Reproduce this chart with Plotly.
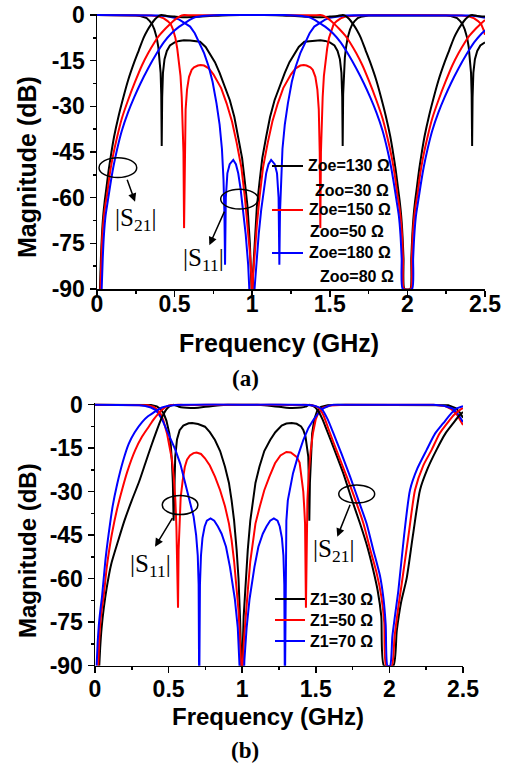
import plotly.graph_objects as go

W, H = 521, 766

# ---------------- (a) coupled-line section: Zoe / Zoo sweep ----------------
a130_s21_f = [0.019, 0.025, 0.032, 0.04, 0.05, 0.06, 0.075, 0.09, 0.11, 0.14, 0.17, 0.2, 0.24, 0.27, 0.3,
              0.325, 0.35, 0.375, 0.4, 0.417, 0.45, 0.5, 0.56, 0.65, 0.75, 0.85, 1.0, 1.15, 1.25, 1.35, 1.44,
              1.5, 1.55, 1.583, 1.6, 1.625, 1.65, 1.675, 1.7, 1.73, 1.76, 1.8, 1.83, 1.86, 1.89, 1.91, 1.925,
              1.94, 1.95, 1.96, 1.968, 1.975, 1.981, 2.019, 2.025, 2.032, 2.04, 2.05, 2.06, 2.075, 2.09, 2.11,
              2.14, 2.17, 2.2, 2.24, 2.27, 2.3, 2.325, 2.35, 2.375, 2.4, 2.417, 2.45, 2.5]
a130_s21_db = [-90, -80, -72, -66, -61, -57, -51, -46, -40, -33, -27, -21.5, -15.5, -11.5, -7.5,
               -5, -3, -1.3, -0.3, 0, -0.3, -0.5, -0.7, -0.55, -0.25, -0.05, 0, -0.05, -0.25, -0.55, -0.7,
               -0.5, -0.3, 0, -0.3, -1.3, -3, -5, -7.5, -11.5, -15.5, -21.5, -27, -33, -40, -46, -51,
               -57, -61, -66, -72, -80, -90, -90, -80, -72, -66, -61, -57, -51, -46, -40,
               -33, -27, -21.5, -15.5, -11.5, -7.5, -5, -3, -1.3, -0.3, 0, -0.3, -0.5]

a150_s21_f = [0.022, 0.028, 0.035, 0.045, 0.055, 0.065, 0.08, 0.1, 0.13, 0.16, 0.2, 0.245, 0.29, 0.33, 0.37,
              0.4, 0.44, 0.47, 0.5, 0.53, 0.561, 0.6, 0.668, 0.8, 1.0, 1.2, 1.332, 1.4, 1.439, 1.47, 1.5,
              1.53, 1.56, 1.6, 1.63, 1.67, 1.71, 1.755, 1.8, 1.84, 1.87, 1.9, 1.92, 1.935, 1.945, 1.955,
              1.965, 1.972, 1.978, 2.022, 2.028, 2.035, 2.045, 2.055, 2.065, 2.08, 2.1, 2.13, 2.16, 2.2,
              2.245, 2.29, 2.33, 2.37, 2.4, 2.44, 2.47, 2.5]
a150_s21_db = [-90, -80, -72, -66, -62, -59, -53, -47, -40, -34, -28, -22, -16.5, -12.5, -9,
               -6.8, -4.5, -3, -1.6, -0.5, 0, -0.1, -0.1, -0.03, 0, -0.03, -0.1, -0.1, 0, -0.5, -1.6,
               -3, -4.5, -6.8, -9, -12.5, -16.5, -22, -28, -34, -40, -47, -53, -59, -62, -66,
               -72, -80, -90, -90, -80, -72, -66, -62, -59, -53, -47, -40, -34, -28,
               -22, -16.5, -12.5, -9, -6.8, -4.5, -3, -1.6]

a180_s21_f = [0.03, 0.037, 0.045, 0.055, 0.07, 0.085, 0.105, 0.13, 0.16, 0.2, 0.24, 0.28, 0.33, 0.38, 0.43,
              0.48, 0.53, 0.57, 0.6, 0.64, 0.7, 0.76, 0.824, 1.0, 1.176, 1.24, 1.3, 1.36, 1.4, 1.43, 1.47,
              1.52, 1.57, 1.62, 1.67, 1.72, 1.76, 1.8, 1.84, 1.87, 1.895, 1.915, 1.93, 1.945, 1.955, 1.963,
              1.97, 2.03, 2.037, 2.045, 2.055, 2.07, 2.085, 2.105, 2.13, 2.16, 2.2, 2.24, 2.28, 2.33, 2.38,
              2.43, 2.48, 2.5]
a180_s21_db = [-90, -80, -72, -66, -61, -56, -50, -44, -38, -32, -27, -22.5, -17.5, -13, -9,
               -6, -3.8, -2.5, -1.5, -0.6, -0.2, -0.05, 0, 0, 0, -0.05, -0.2, -0.6, -1.5, -2.5, -3.8,
               -6, -9, -13, -17.5, -22.5, -27, -32, -38, -44, -50, -56, -61, -66, -72, -80,
               -90, -90, -80, -72, -66, -61, -56, -50, -44, -38, -32, -27, -22.5, -17.5, -13,
               -9, -6, -5]

a130_s11_f = [0, 0.2, 0.25, 0.28, 0.3, 0.32, 0.34, 0.355, 0.37, 0.385, 0.395, 0.403, 0.41, 0.414, 0.417,
              0.42, 0.425, 0.435, 0.45, 0.47, 0.5, 0.53, 0.56, 0.6, 0.664, 0.7, 0.727, 0.76, 0.79, 0.82,
              0.856, 0.885, 0.91, 0.935, 0.953, 0.97, 0.985, 0.995, 1.0, 1.005, 1.015, 1.03, 1.047, 1.065,
              1.09, 1.115, 1.144, 1.18, 1.21, 1.24, 1.273, 1.3, 1.336, 1.4, 1.44, 1.47, 1.5, 1.53, 1.55,
              1.565, 1.575, 1.58, 1.583, 1.586, 1.59, 1.597, 1.605, 1.615, 1.63, 1.645, 1.66, 1.68, 1.7,
              1.72, 1.75, 1.8, 2.0, 2.2, 2.25, 2.28, 2.3, 2.32, 2.34, 2.355, 2.37, 2.385, 2.395, 2.403,
              2.41, 2.414, 2.417, 2.42, 2.425, 2.435, 2.45, 2.47, 2.5]
a130_s11_db = [0, -0.05, -0.15, -0.35, -0.6, -1.0, -2.0, -3, -4.8, -7.5, -10.5, -14, -19, -26, -43,
               -27, -19, -14.5, -11.8, -10, -9, -8.5, -8.3, -8.4, -8.8, -10.5, -12.6, -15.5, -19, -23,
               -28, -33.5, -40, -47, -55, -63, -75, -85, -95, -85, -75, -63, -55, -47,
               -40, -33.5, -28, -23, -19, -15.5, -12.6, -10.5, -8.8, -8.4, -8.3, -8.5, -9, -10, -11.8,
               -14.5, -19, -27, -43, -26, -19, -14, -10.5, -7.5, -4.8, -3, -2, -1, -0.6,
               -0.35, -0.15, -0.05, 0, -0.05, -0.15, -0.35, -0.6, -1.0, -2.0, -3, -4.8, -7.5, -10.5, -14,
               -19, -26, -43, -27, -19, -14.5, -11.8, -10, -9]

a150_s11_f = [0, 0.3, 0.35, 0.4, 0.43, 0.455, 0.475, 0.49, 0.505, 0.517, 0.528, 0.538, 0.546, 0.552, 0.557,
              0.561, 0.565, 0.571, 0.58, 0.593, 0.61, 0.625, 0.65, 0.668, 0.69, 0.72, 0.75, 0.8, 0.835,
              0.87, 0.9, 0.93, 0.953, 0.97, 0.985, 0.995, 1.0, 1.005, 1.015, 1.03, 1.047, 1.07, 1.1, 1.13,
              1.165, 1.2, 1.25, 1.28, 1.31, 1.332, 1.35, 1.375, 1.39, 1.407, 1.42, 1.429, 1.435, 1.439,
              1.443, 1.448, 1.454, 1.462, 1.472, 1.483, 1.495, 1.51, 1.525, 1.545, 1.57, 1.6, 1.65, 1.7,
              2.0, 2.3, 2.35, 2.4, 2.43, 2.455, 2.475, 2.49, 2.5]
a150_s11_db = [0, -0.05, -0.15, -0.5, -1.1, -2, -3, -4.8, -7.5, -11, -15, -20, -27, -35, -45,
               -70, -45, -31, -24.5, -20.3, -18, -17.2, -16.6, -16.4, -16.6, -17.5, -19.5, -24, -29,
               -35, -42, -50, -60, -69, -78, -86, -95, -86, -78, -69, -60, -50, -42, -35,
               -29, -24, -19.5, -17.5, -16.6, -16.4, -16.6, -17.2, -18, -20.3, -24.5, -31, -45, -70,
               -45, -35, -27, -20, -15, -11, -7.5, -4.8, -3, -2, -1.1, -0.5, -0.15, -0.05,
               0, -0.05, -0.15, -0.5, -1.1, -2, -3, -4.8, -6.5]

a180_s11_f = [0, 0.35, 0.4, 0.45, 0.5, 0.53, 0.56, 0.6, 0.63, 0.66, 0.69, 0.72, 0.745, 0.77, 0.79, 0.805,
              0.815, 0.821, 0.825, 0.83, 0.84, 0.855, 0.878, 0.895, 0.91, 0.925, 0.942, 0.958, 0.974,
              0.985, 1.0, 1.015, 1.026, 1.042, 1.058, 1.075, 1.09, 1.105, 1.122, 1.145, 1.16, 1.17, 1.175,
              1.179, 1.185, 1.195, 1.21, 1.23, 1.255, 1.28, 1.31, 1.34, 1.37, 1.4, 1.44, 1.47, 1.5, 1.55,
              1.6, 1.65, 2.0, 2.35, 2.4, 2.45, 2.5]
a180_s11_db = [0, -0.05, -0.15, -0.4, -0.9, -1.5, -2.4, -3.8, -6, -9, -12.5, -17, -22, -29, -36, -44,
               -54, -65, -82, -60, -52, -49, -47.6, -49, -52, -57, -64, -72, -82,
               -90, -110, -90, -82, -72, -64, -57, -52, -49, -47.6, -49, -52, -60, -82,
               -65, -54, -44, -36, -29, -22, -17, -12.5, -9, -6, -3.8, -2.4, -1.5, -0.9, -0.4,
               -0.15, -0.05, 0, -0.05, -0.15, -0.4, -0.9]

# ---------------- (b) stub impedance Z1 sweep ----------------
b30_s21_f = [0.029, 0.035, 0.045, 0.06, 0.08, 0.11, 0.16, 0.2, 0.25, 0.3, 0.342, 0.38, 0.421, 0.445, 0.466,
             0.485, 0.505, 0.52, 0.534, 0.55, 0.57, 0.6, 0.65, 0.7, 0.75, 0.8, 0.85, 0.9, 1.0, 1.1, 1.15,
             1.2, 1.25, 1.3, 1.34, 1.4, 1.43, 1.456, 1.475, 1.495, 1.52, 1.545, 1.574, 1.63, 1.687, 1.74,
             1.8, 1.85, 1.89, 1.92, 1.945, 1.963, 2.027, 2.05, 2.08, 2.117, 2.16, 2.208, 2.26, 2.32, 2.38,
             2.434, 2.47, 2.49, 2.5]
b30_s21_db = [-90, -84, -77, -70, -63, -55, -46.5, -40, -33, -26.5, -20.2, -14.5, -8.7, -5.5, -3.2,
              -1.6, -0.6, -0.2, 0, -0.3, -0.7, -1.0, -1.15, -1.05, -0.75, -0.45, -0.2, -0.07, 0, -0.07, -0.2,
              -0.45, -0.75, -1.05, -1.15, -1.0, -0.7, 0, -0.3, -0.9, -2.5, -5, -8.7, -16, -23.7, -32,
              -40.9, -49, -57, -64, -73, -90, -90, -78, -68, -60, -45, -29.4, -22, -15.6, -10,
              -6.4, -4, -3, -2.5]

b50_s21_f = [0.022, 0.028, 0.035, 0.045, 0.059, 0.08, 0.1, 0.115, 0.15, 0.183, 0.22, 0.274, 0.32, 0.365, 0.4,
             0.432, 0.46, 0.49, 0.52, 0.564, 0.6, 0.69, 0.8, 1.0, 1.2, 1.31, 1.4, 1.433, 1.47, 1.5, 1.517,
             1.55, 1.597, 1.65, 1.71, 1.77, 1.823, 1.87, 1.913, 1.945, 1.965, 1.978, 2.016, 2.035, 2.06,
             2.083, 2.13, 2.174, 2.23, 2.287, 2.34, 2.4, 2.44, 2.48, 2.5]
b50_s21_db = [-90, -82, -76, -71, -66, -56, -49, -44.5, -36, -29.5, -23, -15.6, -11, -7.6, -5,
              -3, -1.6, -0.6, -0.15, 0, -0.1, -0.1, -0.05, 0, -0.05, -0.1, -0.1, 0, -0.2, -0.6, -1,
              -3.5, -9.9, -17, -24.8, -33, -40.9, -50, -58, -66, -75, -90, -90, -80, -70,
              -62, -45, -29.4, -21, -15.6, -10, -5.9, -3.5, -1.8, -1.2]

b70_s21_f = [0.011, 0.018, 0.026, 0.036, 0.048, 0.07, 0.093, 0.12, 0.15, 0.19, 0.229, 0.27, 0.32, 0.36, 0.39,
             0.42, 0.455, 0.5, 0.55, 0.6, 1.0, 1.4, 1.45, 1.5, 1.54, 1.58, 1.62, 1.675, 1.733, 1.79, 1.845,
             1.89, 1.936, 1.96, 1.975, 1.987, 2.005, 2.02, 2.04, 2.061, 2.1, 2.14, 2.19, 2.253, 2.31, 2.366,
             2.42, 2.457, 2.5]
b70_s21_db = [-90, -82, -76, -71, -66, -54, -44.5, -35, -27.5, -19.5, -13.5, -9.5, -6, -4, -3,
              -2, -1, -0.4, -0.1, 0, 0, 0, -0.1, -0.5, -1.5, -5, -9.9, -17, -24.8, -33, -41,
              -50, -59, -67, -76, -90, -90, -80, -72, -64, -45, -29.4, -22, -15.6, -10, -6.4,
              -3, -1.3, -0.5]

b30_s11_f = [0, 0.3, 0.38, 0.42, 0.445, 0.466, 0.485, 0.505, 0.515, 0.523, 0.529, 0.534, 0.538, 0.545, 0.557,
             0.575, 0.6, 0.636, 0.66, 0.7, 0.747, 0.78, 0.815, 0.85, 0.883, 0.91, 0.928, 0.945, 0.962, 0.975,
             0.985, 0.997, 1.01, 1.025, 1.038, 1.055, 1.072, 1.09, 1.117, 1.15, 1.19, 1.225, 1.268, 1.3,
             1.336, 1.37, 1.4, 1.415, 1.43, 1.44, 1.449, 1.453, 1.456, 1.46, 1.467, 1.475, 1.49, 1.51,
             1.535, 1.58, 1.65, 2.3, 2.4, 2.45, 2.48, 2.5]
b30_s11_db = [0, 0, -0.1, -0.6, -1.5, -3, -5.5, -9.9, -14, -20, -27, -40, -27, -18, -12,
              -8.8, -7.2, -6.4, -6.3, -6.7, -7.6, -9.5, -12.2, -16, -21.4, -27, -33, -40, -50, -60,
              -73, -95, -73, -60, -50, -40, -33, -27, -21.4, -16, -12.2, -9.5, -7.2, -6.5,
              -6.3, -6.6, -7.5, -8.7, -11, -14, -18, -27, -40, -27, -18, -10, -5, -2,
              -0.8, -0.2, 0, 0, -0.2, -1.2, -2.8, -4.5]

b50_s11_f = [0, 0.3, 0.36, 0.4, 0.425, 0.444, 0.465, 0.489, 0.505, 0.523, 0.535, 0.546, 0.553, 0.558, 0.564,
             0.568, 0.574, 0.582, 0.596, 0.61, 0.625, 0.645, 0.669, 0.69, 0.72, 0.747, 0.78, 0.815, 0.85,
             0.883, 0.91, 0.928, 0.945, 0.962, 0.975, 0.985, 0.998, 1.012, 1.025, 1.04, 1.055, 1.072, 1.09,
             1.12, 1.15, 1.185, 1.223, 1.26, 1.3, 1.33, 1.37, 1.39, 1.404, 1.415, 1.422, 1.427, 1.433,
             1.437, 1.443, 1.452, 1.465, 1.48, 1.5, 1.52, 1.55, 1.6, 1.7, 2.3, 2.38, 2.42, 2.46, 2.5]
b50_s11_db = [0, 0, -0.2, -0.8, -1.8, -3, -5.5, -9.9, -14, -19, -25, -33, -42, -52, -70,
              -50, -40, -32, -26, -21.5, -19, -17.5, -16.7, -16.5, -17, -18.5, -21, -24.8, -29.5,
              -35, -41, -46.7, -54, -62.8, -71, -81, -95, -81, -71, -62.8, -54, -46.7, -41,
              -35, -29.5, -24.8, -20.2, -17.5, -16.3, -16.5, -18, -20, -25, -30, -36, -41, -70,
              -45, -33, -24, -16, -10, -5, -2.5, -1, -0.3, 0, 0, -0.5, -1.5, -3.5, -7]

b70_s11_f = [0, 0.25, 0.3, 0.342, 0.38, 0.41, 0.43, 0.455, 0.478, 0.51, 0.546, 0.58, 0.614, 0.645, 0.67,
             0.687, 0.698, 0.704, 0.708, 0.713, 0.72, 0.73, 0.745, 0.76, 0.785, 0.81, 0.835, 0.86, 0.89,
             0.917, 0.935, 0.95, 0.97, 0.985, 1.0, 1.015, 1.03, 1.05, 1.065, 1.083, 1.11, 1.14, 1.165,
             1.19, 1.215, 1.24, 1.255, 1.27, 1.28, 1.286, 1.29, 1.294, 1.3, 1.31, 1.345, 1.38, 1.415,
             1.45, 1.483, 1.52, 1.55, 1.59, 1.62, 2.3, 2.37, 2.43, 2.47, 2.5]
b70_s11_db = [0, 0, -0.2, -0.5, -1, -1.8, -3, -5, -7.6, -11, -15.6, -20.5, -27, -33, -38.6,
              -45, -52, -62, -100, -62, -52, -46, -42, -40, -39.2, -40, -42, -44.5, -49,
              -56, -61.5, -67, -77, -88, -110, -88, -77, -67, -61.5, -56, -49, -44.5, -42,
              -40, -39.2, -40, -42, -46, -52, -62, -100, -62, -40, -33, -23.7, -17.5, -12.2,
              -8, -5.3, -2.8, -1.3, -0.4, 0, 0, -0.4, -1.3, -3.5, -6]

X_TICKS = [0, 0.5, 1, 1.5, 2, 2.5]
X_TICK_TEXT = ["0", "0.5", "1", "1.5", "2", "2.5"]
Y_TICKS = [0, -15, -30, -45, -60, -75, -90]
Y_TICK_TEXT = ["0", "-15", "-30", "-45", "-60", "-75", "-90"]

BLACK, RED, BLUE = "#000000", "#ff0000", "#0000ff"
SANS = "Liberation Sans, Arial, sans-serif"
SERIF = "Liberation Serif, Times New Roman, serif"

fig = go.Figure()


def curve(fx, fy, color, xa, ya, smooth):
    line = dict(color=color, width=2)
    if smooth:
        line.update(shape="spline", smoothing=0.6)
    fig.add_trace(go.Scatter(x=fx, y=fy, mode="lines", line=line,
                             xaxis=xa, yaxis=ya, showlegend=False, hoverinfo="skip"))


# S11 (sharp reflection zeros, straight segments) drawn first, S21 (smooth) on top
curve(a130_s11_f, a130_s11_db, BLACK, "x", "y", False)
curve(a150_s11_f, a150_s11_db, RED, "x", "y", False)
curve(a180_s11_f, a180_s11_db, BLUE, "x", "y", False)
curve(a130_s21_f, a130_s21_db, BLACK, "x", "y", True)
curve(a150_s21_f, a150_s21_db, RED, "x", "y", True)
curve(a180_s21_f, a180_s21_db, BLUE, "x", "y", True)

curve(b30_s11_f, b30_s11_db, BLACK, "x2", "y2", False)
curve(b50_s11_f, b50_s11_db, RED, "x2", "y2", False)
curve(b70_s11_f, b70_s11_db, BLUE, "x2", "y2", False)
curve(b30_s21_f, b30_s21_db, BLACK, "x2", "y2", True)
curve(b50_s21_f, b50_s21_db, RED, "x2", "y2", True)
curve(b70_s21_f, b70_s21_db, BLUE, "x2", "y2", True)


def px(v):
    return v / W


def py(v):
    return 1 - v / H


TICK_FONT = dict(family=SANS, size=23, color="black", weight="bold")


def xax(dom, standoff):
    return dict(domain=dom, range=[0, 2.5], showline=True, linecolor="black", linewidth=1.5,
                ticks="outside", ticklen=6, tickwidth=1.5, tickcolor="black",
                tickmode="array", tickvals=X_TICKS, ticktext=X_TICK_TEXT, tickfont=TICK_FONT,
                ticklabelstandoff=standoff, automargin=False,
                minor=dict(ticks="outside", ticklen=3, tickwidth=1.5, tickcolor="black", dtick=0.25, tick0=0),
                showgrid=False, zeroline=False, fixedrange=True)


def yax(dom, anchor):
    return dict(domain=dom, range=[-90, 0.5], anchor=anchor, showline=True, linecolor="black", linewidth=1.5,
                ticks="outside", ticklen=6, tickwidth=1.5, tickcolor="black",
                tickmode="array", tickvals=Y_TICKS, ticktext=Y_TICK_TEXT, tickfont=TICK_FONT,
                automargin=False,
                minor=dict(ticks="outside", ticklen=3, tickwidth=1.5, tickcolor="black", dtick=7.5, tick0=0),
                showgrid=False, zeroline=False, fixedrange=True)


xa = xax([px(97), px(485)], -12); xa["anchor"] = "y"
xb = xax([px(95), px(463)], -4); xb["anchor"] = "y2"
ya = yax([py(289), py(13.5)], "x")
yb = yax([py(665.7), py(403.2)], "x2")

annotations = []
shapes = []

# axis titles and panel labels
for (x, y, txt, ang, size) in [(279, 342.5, "Frequency (GHz)", 0, 25), (268, 716.7, "Frequency (GHz)", 0, 24),
                               (27, 167, "Magnitude (dB)", -90, 25), (27, 551, "Magnitude (dB)", -90, 24)]:
    annotations.append(dict(x=px(x), y=py(y), xref="paper", yref="paper", text=txt, showarrow=False,
                            textangle=ang, xanchor="center", yanchor="middle",
                            font=dict(family=SANS, size=size, color="black", weight="bold")))
for (x, y, txt) in [(245, 378, "(a)"), (245, 750, "(b)")]:
    annotations.append(dict(x=px(x), y=py(y), xref="paper", yref="paper", text=txt, showarrow=False,
                            xanchor="center", yanchor="middle",
                            font=dict(family=SERIF, size=23, color="black", weight="bold")))

# |S21| / |S11| call-outs (ellipse around the curve bundle + arrow to the label)
callouts = [
    ("x", "y", (0.013, 0.256, -53.4, -46.9), (0.191, -53.6), (0.245, -61.3), (0.251, -67.3), "|S<sub>21</sub>|"),
    ("x", "y", (0.797, 1.039, -63.7, -57.2), (0.825, -64.1), (0.724, -75.6), (0.689, -80.2), "|S<sub>11</sub>|"),
    ("x2", "y2", (0.457, 0.699, -37.9, -31.3), (0.532, -38.6), (0.408, -49.0), (0.378, -55.3), "|S<sub>11</sub>|"),
    ("x2", "y2", (1.656, 1.900, -33.9, -27.7), (1.737, -34.0), (1.646, -45.5), (1.617, -50.4), "|S<sub>21</sub>|"),
]
for (xr, yr, (ex0, ex1, ey0, ey1), (sx, sy), (tx, ty), (lx, ly), lab) in callouts:
    shapes.append(dict(type="circle", xref=xr, yref=yr, x0=ex0, x1=ex1, y0=ey0, y1=ey1,
                       line=dict(color="black", width=1.5)))
    annotations.append(dict(x=tx, y=ty, ax=sx, ay=sy, xref=xr, yref=yr, axref=xr, ayref=yr, text="",
                            showarrow=True, arrowhead=2, arrowsize=1.1, arrowwidth=1.5, arrowcolor="black"))
    annotations.append(dict(x=lx, y=ly, xref=xr, yref=yr, text=lab, showarrow=False,
                            xanchor="center", yanchor="middle",
                            font=dict(family=SERIF, size=25, color="black")))

# legends
legend_a = [(166, BLACK, "Zoe=130 Ω", 306, 190, "Zoo=30 Ω", 313),
            (210, RED, "Zoe=150 Ω", 307, 232, "Zoo=50 Ω", 308),
            (253, BLUE, "Zoe=180 Ω", 307, 276, "Zoo=80 Ω", 318)]
for (ly, col, t1, tx1, ly2, t2, tx2) in legend_a:
    shapes.append(dict(type="line", xref="paper", yref="paper", x0=px(272), x1=px(303), y0=py(ly), y1=py(ly),
                       line=dict(color=col, width=2)))
    annotations.append(dict(x=px(tx1), y=py(ly), xref="paper", yref="paper", text=t1, showarrow=False,
                            xanchor="left", yanchor="middle",
                            font=dict(family=SANS, size=16, color="black", weight="bold")))
    annotations.append(dict(x=px(tx2), y=py(ly2), xref="paper", yref="paper", text=t2, showarrow=False,
                            xanchor="left", yanchor="middle",
                            font=dict(family=SANS, size=16, color="black", weight="bold")))

legend_b = [(599, BLACK, "Z1=30 Ω"), (620, RED, "Z1=50 Ω"), (641, BLUE, "Z1=70 Ω")]
for (ly, col, t1) in legend_b:
    shapes.append(dict(type="line", xref="paper", yref="paper", x0=px(275), x1=px(305), y0=py(ly), y1=py(ly),
                       line=dict(color=col, width=2)))
    annotations.append(dict(x=px(308), y=py(ly), xref="paper", yref="paper", text=t1, showarrow=False,
                            xanchor="left", yanchor="middle",
                            font=dict(family=SANS, size=16, color="black", weight="bold")))

fig.update_layout(width=W, height=H, margin=dict(l=0, r=0, t=0, b=0), autosize=False,
                  paper_bgcolor="white", plot_bgcolor="white", showlegend=False,
                  xaxis=xa, yaxis=ya, xaxis2=xb, yaxis2=yb,
                  annotations=annotations, shapes=shapes)

fig.write_html("out.html", config={"displayModeBar": False, "staticPlot": True},
               post_script="document.body.style.margin='0';document.body.style.overflow='hidden';")
